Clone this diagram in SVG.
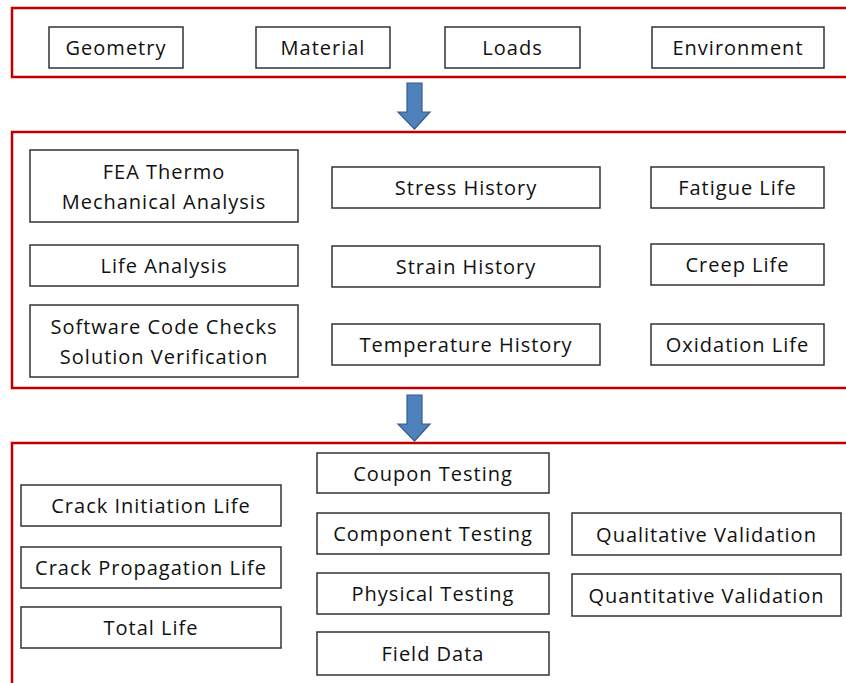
<svg xmlns="http://www.w3.org/2000/svg" width="846" height="683" viewBox="0 0 846 683">
  <defs>
    <style>
      .band { fill: none; stroke: #C00000; stroke-width: 2.5; }
      .box { fill: #FFFFFF; stroke: #333333; stroke-width: 1.5; }
      .lbl { font-family: "Open Sans", "Liberation Sans", Arial, sans-serif; font-size: 20px; letter-spacing: 1px; fill: #111111; text-anchor: middle; dominant-baseline: central; }
      .arrow { fill: #4F81BD; stroke: #385D8A; stroke-width: 1.2; }
    </style>
  </defs>
  <rect width="846" height="683" fill="#FFFFFF"/>

  <!-- stage bands -->
  <g id="bands">
    <rect class="band" x="12" y="8" width="850" height="69"/>
    <rect class="band" x="12" y="132" width="850" height="256"/>
    <rect class="band" x="12" y="443" width="850" height="260"/>
  </g>

  <!-- flow arrows between stages -->
  <g id="connectors">
    <path class="arrow" d="M407,83 H422 V112 H430 L414.5,129 L398,112 H407 Z"/>
    <path class="arrow" d="M407,395 H422 V424 H430 L414.5,441 L398,424 H407 Z"/>
  </g>

  <!-- inputs -->
  <g id="geometry"><rect class="box" x="49" y="27" width="134" height="41"/><text class="lbl" x="116" y="47.5">Geometry</text></g>
  <g id="material"><rect class="box" x="256" y="27" width="134" height="41"/><text class="lbl" x="323" y="47.5">Material</text></g>
  <g id="loads"><rect class="box" x="445" y="27" width="135" height="41"/><text class="lbl" x="512.5" y="47.5">Loads</text></g>
  <g id="environment"><rect class="box" x="652" y="27" width="172" height="41"/><text class="lbl" x="738" y="47.5">Environment</text></g>

  <!-- analysis -->
  <g id="fea"><rect class="box" x="30" y="150" width="268" height="72"/><text class="lbl" x="164" y="171">FEA Thermo</text><text class="lbl" x="164" y="201">Mechanical Analysis</text></g>
  <g id="stress-history"><rect class="box" x="332" y="167" width="268" height="41"/><text class="lbl" x="466" y="187.5">Stress History</text></g>
  <g id="fatigue-life"><rect class="box" x="651" y="167" width="173" height="41"/><text class="lbl" x="737.5" y="187.5">Fatigue Life</text></g>
  <g id="life-analysis"><rect class="box" x="30" y="245" width="268" height="41"/><text class="lbl" x="164" y="265.5">Life Analysis</text></g>
  <g id="strain-history"><rect class="box" x="332" y="246" width="268" height="41"/><text class="lbl" x="466" y="266.5">Strain History</text></g>
  <g id="creep-life"><rect class="box" x="651" y="244" width="173" height="41"/><text class="lbl" x="737.5" y="264.5">Creep Life</text></g>
  <g id="software-checks"><rect class="box" x="30" y="305" width="268" height="72"/><text class="lbl" x="164" y="326">Software Code Checks</text><text class="lbl" x="164" y="356">Solution Verification</text></g>
  <g id="temperature-history"><rect class="box" x="332" y="324" width="268" height="41"/><text class="lbl" x="466" y="344.5">Temperature History</text></g>
  <g id="oxidation-life"><rect class="box" x="651" y="324" width="173" height="41"/><text class="lbl" x="737.5" y="344.5">Oxidation Life</text></g>

  <!-- validation -->
  <g id="coupon-testing"><rect class="box" x="317" y="453" width="232" height="40"/><text class="lbl" x="433" y="473">Coupon Testing</text></g>
  <g id="crack-initiation"><rect class="box" x="21" y="485" width="260" height="41"/><text class="lbl" x="151" y="505.5">Crack Initiation Life</text></g>
  <g id="component-testing"><rect class="box" x="317" y="513" width="232" height="41"/><text class="lbl" x="433" y="533.5">Component Testing</text></g>
  <g id="qualitative"><rect class="box" x="572" y="513" width="269" height="42"/><text class="lbl" x="706.5" y="534">Qualitative Validation</text></g>
  <g id="crack-propagation"><rect class="box" x="21" y="547" width="260" height="41"/><text class="lbl" x="151" y="567.5">Crack Propagation Life</text></g>
  <g id="physical-testing"><rect class="box" x="317" y="573" width="232" height="41"/><text class="lbl" x="433" y="593.5">Physical Testing</text></g>
  <g id="quantitative"><rect class="box" x="572" y="574" width="269" height="42"/><text class="lbl" x="706.5" y="595">Quantitative Validation</text></g>
  <g id="total-life"><rect class="box" x="21" y="607" width="260" height="41"/><text class="lbl" x="151" y="627.5">Total Life</text></g>
  <g id="field-data"><rect class="box" x="317" y="632" width="232" height="43"/><text class="lbl" x="433" y="653.5">Field Data</text></g>
</svg>
